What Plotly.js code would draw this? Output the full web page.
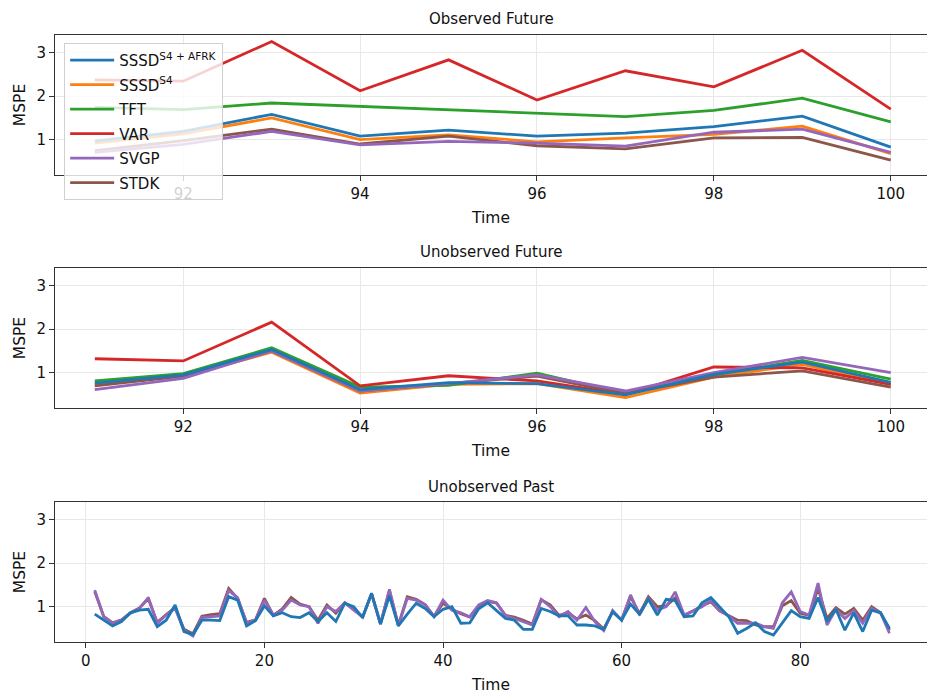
<!DOCTYPE html>
<html>
<head>
<meta charset="utf-8">
<script src="https://cdn.plot.ly/plotly-3.0.1.min.js"></script>
<style>html,body{margin:0;padding:0;background:#fff;}#chart{width:927px;height:696px;}</style>
</head>
<body>
<div id="chart"></div>
<script>
// ---------- data ----------
const seriesNames = ['SSSD<sup>S4 + AFRK</sup>', 'SSSD<sup>S4</sup>', 'TFT', 'VAR', 'SVGP', 'STDK'];
const seriesColors = ['#1f77b4', '#ff7f0e', '#2ca02c', '#d62728', '#9467bd', '#8c564b'];
const panelTitles = ['Observed Future', 'Unobserved Future', 'Unobserved Past'];

const timeFuture = [91, 92, 93, 94, 95, 96, 97, 98, 99, 100];

// Observed Future
const afrkObs = [0.97, 1.19, 1.58, 1.08, 1.22, 1.08, 1.15, 1.30, 1.54, 0.83];
const s4Obs   = [0.92, 1.13, 1.50, 1.00, 1.11, 0.95, 1.04, 1.12, 1.31, 0.68];
const tftObs  = [1.74, 1.69, 1.84, 1.76, 1.68, 1.60, 1.53, 1.67, 1.95, 1.41];
const varObs  = [2.37, 2.34, 3.25, 2.12, 2.83, 1.91, 2.58, 2.21, 3.05, 1.70];
const svgpObs = [0.71, 0.89, 1.19, 0.88, 0.96, 0.92, 0.85, 1.17, 1.24, 0.71];
const stdkObs = [0.75, 0.98, 1.24, 0.90, 1.08, 0.86, 0.79, 1.04, 1.05, 0.53];

// Unobserved Future
const afrkUnobs = [0.76, 0.95, 1.53, 0.61, 0.77, 0.75, 0.49, 0.96, 1.24, 0.78];
const s4Unobs   = [0.73, 0.92, 1.47, 0.53, 0.73, 0.75, 0.43, 0.90, 1.19, 0.73];
const tftUnobs  = [0.81, 0.98, 1.57, 0.67, 0.71, 0.99, 0.52, 0.95, 1.28, 0.85];
const varUnobs  = [1.32, 1.27, 2.16, 0.70, 0.93, 0.81, 0.50, 1.13, 1.11, 0.73];
const svgpUnobs = [0.61, 0.87, 1.50, 0.58, 0.75, 0.95, 0.58, 1.00, 1.35, 1.00];
const stdkUnobs = [0.70, 0.92, 1.50, 0.58, 0.75, 0.92, 0.52, 0.90, 1.04, 0.67];

// Unobserved Past (time steps 1..90)
const timePast = [];
for (let i = 1; i <= 90; i++) timePast.push(i);
const afrkPast = [
  0.83,0.69,0.56,0.66,0.86,0.92,0.94,0.54,0.69,1.04,0.43,0.36,0.69,0.69,0.68,1.23,1.15,0.56,0.68,1.02,0.79,0.86,
  0.77,0.75,0.86,0.66,0.86,0.66,1.08,1.00,0.75,1.31,0.60,1.25,0.56,0.83,1.08,0.96,0.77,0.94,1.00,0.62,0.63,0.95,
  1.09,0.91,0.73,0.69,0.48,0.48,0.96,0.89,0.79,0.79,0.58,0.58,0.56,0.48,0.89,0.69,1.06,0.83,1.17,0.81,1.17,1.14,
  0.77,0.79,1.09,1.21,1.00,0.77,0.39,0.50,0.63,0.43,0.35,0.62,0.91,0.77,0.73,1.21,0.66,0.94,0.46,0.86,0.43,0.92,0.86,0.50];
const svgpPast = [
  1.38,0.77,0.62,0.69,0.85,0.96,1.21,0.62,0.81,0.96,0.46,0.33,0.75,0.77,0.79,1.37,1.21,0.62,0.69,1.15,0.81,0.92,
  1.15,1.04,1.00,0.62,1.00,0.89,1.09,0.92,0.77,1.29,0.60,1.40,0.56,1.19,1.15,1.04,0.77,1.15,0.92,0.86,0.77,1.04,
  1.14,1.09,0.79,0.73,0.66,0.58,1.17,1.00,0.77,0.89,0.69,0.98,0.66,0.45,0.91,0.69,1.27,0.81,1.19,0.92,1.00,1.34,
  0.81,0.91,1.00,1.15,0.91,0.79,0.62,0.62,0.62,0.54,0.50,1.09,1.34,0.89,0.81,1.54,0.58,0.94,0.73,0.91,0.62,0.96,0.86,0.39];
const stdkPast = [
  1.35,0.78,0.63,0.70,0.86,0.97,1.18,0.64,0.82,0.98,0.48,0.38,0.78,0.82,0.84,1.42,1.19,0.64,0.70,1.19,0.80,0.95,
  1.21,1.06,1.00,0.69,1.04,0.85,1.09,0.95,0.76,1.30,0.61,1.37,0.58,1.23,1.17,1.05,0.78,1.08,0.94,0.84,0.76,1.02,
  1.12,1.08,0.80,0.76,0.69,0.60,1.16,1.04,0.80,0.86,0.72,0.81,0.68,0.49,0.88,0.70,1.23,0.84,1.23,1.00,1.02,1.20,
  0.80,0.90,1.02,1.11,0.90,0.80,0.69,0.68,0.58,0.54,0.54,1.02,1.14,0.85,0.80,1.42,0.73,0.98,0.83,0.96,0.69,1.00,0.86,0.46];

const xTicksFuture = [92, 94, 96, 98, 100];
const xTicksPast = [0, 20, 40, 60, 80];
const yTicks = [1, 2, 3];

// ---------- traces ----------
const FONT = 'DejaVu Sans, sans-serif';
const traces = [];
function addLine(x, y, idx, axisNum, showLegend) {
  const sfx = axisNum === 1 ? '' : String(axisNum);
  traces.push({
    type: 'scatter', mode: 'lines', x: x, y: y,
    name: seriesNames[idx], legendgroup: 'g' + idx, legendrank: idx + 1,
    showlegend: showLegend,
    line: {color: seriesColors[idx], width: 2.8},
    xaxis: 'x' + sfx, yaxis: 'y' + sfx, hoverinfo: 'x+y+name'
  });
}
// draw order: others first, SSSD^S4+AFRK last (on top)
const obsSets = [afrkObs, s4Obs, tftObs, varObs, svgpObs, stdkObs];
const unobsSets = [afrkUnobs, s4Unobs, tftUnobs, varUnobs, svgpUnobs, stdkUnobs];
[1, 2, 3, 5, 4, 0].forEach(i => addLine(timeFuture, obsSets[i], i, 1, true));
[1, 2, 3, 5, 4, 0].forEach(i => addLine(timeFuture, unobsSets[i], i, 2, false));
addLine(timePast, stdkPast, 5, 3, false);
addLine(timePast, svgpPast, 4, 3, false);
addLine(timePast, afrkPast, 0, 3, false);

// ---------- layout ----------
const yRange = [0.19, 3.40];
function xAxis(range, ticks, anchor) {
  return {
    range: range, tickvals: ticks, ticktext: ticks.map(String), anchor: anchor,
    showgrid: true, gridcolor: '#e8e8e8', gridwidth: 1, zeroline: false,
    showline: true, mirror: true, linecolor: '#333', linewidth: 1.1,
    ticks: 'outside', ticklen: 5, tickwidth: 1.1, tickcolor: '#333',
    tickfont: {family: FONT, size: 15, color: '#111'},
    title: {text: 'Time', font: {family: FONT, size: 15.5, color: '#111'}, standoff: 10}
  };
}
function yAxis(domain, anchor) {
  return {
    domain: domain, range: yRange, tickvals: yTicks, ticktext: yTicks.map(String), anchor: anchor,
    showgrid: true, gridcolor: '#e8e8e8', gridwidth: 1, zeroline: false,
    showline: true, mirror: true, linecolor: '#333', linewidth: 1.1,
    ticks: 'outside', ticklen: 5, tickwidth: 1.1, tickcolor: '#333',
    tickfont: {family: FONT, size: 15, color: '#111'},
    title: {text: 'MSPE', font: {family: FONT, size: 15.5, color: '#111'}, standoff: 6}
  };
}
const layout = {
  width: 927, height: 696,
  margin: {l: 55, r: 0, t: 35, b: 54},
  paper_bgcolor: '#fff', plot_bgcolor: '#fff',
  font: {family: FONT, color: '#111'},
  xaxis: xAxis([90.55, 100.41], xTicksFuture, 'y'),
  yaxis: yAxis([0.7694, 1.0], 'x'),
  xaxis2: xAxis([90.55, 100.41], xTicksFuture, 'y2'),
  yaxis2: yAxis([0.3855, 0.6161], 'x2'),
  xaxis3: xAxis([-3.45, 94.2], xTicksPast, 'y3'),
  yaxis3: yAxis([0.0, 0.2306], 'x3'),
  showlegend: true,
  legend: {
    x: 0.0105, y: 0.987, xref: 'paper', yref: 'paper', xanchor: 'left', yanchor: 'top',
    bgcolor: 'rgba(255,255,255,0.8)', bordercolor: '#d0d0d0', borderwidth: 1,
    font: {family: FONT, size: 15, color: '#111'}, tracegroupgap: 2, traceorder: 'grouped',
    itemwidth: 44
  },
  annotations: panelTitles.map((t, i) => ({
    text: t, xref: 'paper', yref: 'paper', x: 0.5, y: [1.026, 0.6425, 0.2554][i],
    xanchor: 'center', yanchor: 'middle', showarrow: false,
    font: {family: FONT, size: 15, color: '#111'}
  }))
};

Plotly.newPlot('chart', traces, layout, {displayModeBar: false, staticPlot: false});
</script>
</body>
</html>
